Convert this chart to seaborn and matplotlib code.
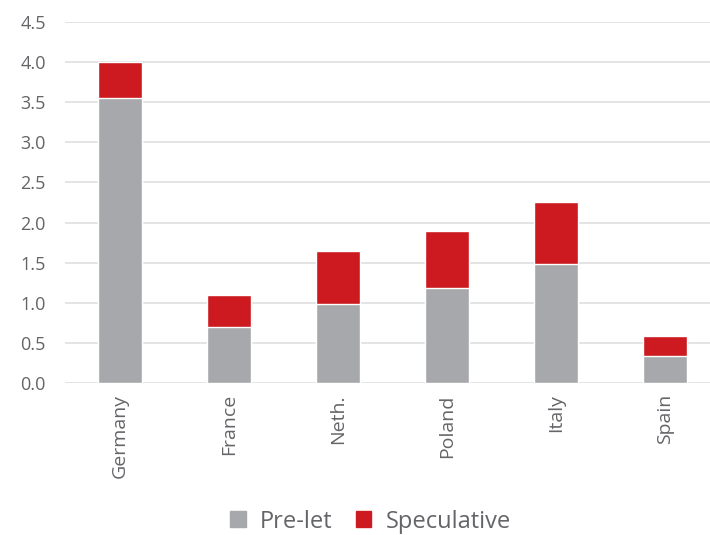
import pandas as pd
import seaborn as sns
import matplotlib.pyplot as plt
from matplotlib.patches import Patch

#values
countries = ['Germany', 'France', 'Neth.', 'Poland', 'Italy', 'Spain']
pre_let = [3.55, 0.70, 0.98, 1.19, 1.48, 0.34]
speculative = [0.45, 0.40, 0.66, 0.70, 0.78, 0.25]

grey = '#A7A8AB'
red = '#CC1A20'
text_col = '#646568'

df = pd.DataFrame({'Country': countries, 'Pre-let': pre_let, 'Speculative': speculative})
df['Total'] = df['Pre-let'] + df['Speculative']

sns.set_style('white')
plt.rcParams['font.family'] = ['Open Sans', 'DejaVu Sans']

fig = plt.figure(figsize=(7.1, 5.35), dpi=100)
ax = fig.add_axes([0.092, 0.284, 0.921, 0.675])

#stacked bars: draw the total in red, then the pre-let part over it in grey
sns.barplot(data=df, x='Country', y='Total', color=red, width=0.4,
            saturation=1, ax=ax, zorder=2)
sns.barplot(data=df, x='Country', y='Pre-let', color=grey, width=0.4,
            saturation=1, ax=ax, zorder=3)

ax.set_ylim(0, 4.5)
ax.set_xlim(-0.5, 5.5)
ax.set_yticks([i * 0.5 for i in range(10)])
ax.set_yticklabels([f'{i * 0.5:.1f}' for i in range(10)])
ax.yaxis.grid(True, color='#E4E4E4', linewidth=1.4, zorder=0)
ax.set_axisbelow(True)
for s in ax.spines.values():
    s.set_visible(False)
ax.set_xlabel('')
ax.set_ylabel('')
ax.tick_params(axis='y', labelsize=13, colors=text_col, length=0, pad=14)
ax.tick_params(axis='x', labelsize=14, colors=text_col, length=0, pad=8)
plt.setp(ax.get_xticklabels(), rotation=90)

handles = [Patch(color=grey, label='Pre-let'), Patch(color=red, label='Speculative')]
leg = fig.legend(handles=handles, loc='center', bbox_to_anchor=(0.522, 0.025), ncol=2,
                 frameon=False, fontsize=17, handlelength=0.65, handleheight=0.65,
                 columnspacing=1.0, handletextpad=0.6)
for t in leg.get_texts():
    t.set_color(text_col)

fig.savefig('out.png', dpi=100)
